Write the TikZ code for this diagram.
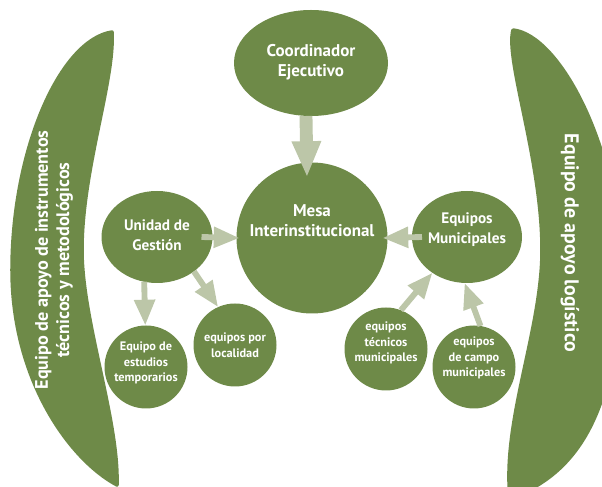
\documentclass[tikz,border=0pt]{standalone}
\usepackage{fontspec}
\setmainfont{PT Sans}
\usetikzlibrary{shapes.geometric,arrows.meta}
\definecolor{leaf}{HTML}{6E8A48}
\definecolor{stem}{HTML}{BCC6A8}
\newlength\pxu
\setlength\pxu{0.03cm}

\begin{document}
\begin{tikzpicture}
    [x=0.03cm, y=-0.03cm,
     blob/.style={ellipse, fill=leaf, inner sep=0pt, outer sep=0pt},
     txt/.style={text=white, align=center, inner sep=0pt, font=\bfseries},
     big/.style={txt, font=\fontsize{14.5}{17}\selectfont\bfseries},
     mid/.style={txt, font=\fontsize{13}{17}\selectfont\bfseries},
     small/.style={txt, font=\fontsize{10.5}{13.5}\selectfont\bfseries},
     trunk/.style={draw=stem, line width=11pt, -{Triangle[length=31pt, width=23pt]}},
     link/.style={draw=stem, line width=5pt, -{Triangle[length=22pt, width=17pt]}}]
    \def \small {83\pxu} % circle size of the small teams

    \useasboundingbox (0,0) rectangle (602,487);
    \clip (0,0) rectangle (602,487);

    % side supports
    \fill[leaf, draw=leaf, line width=3pt, line join=round]
      (112,32) .. controls (60,40) and (12,150) .. (12,270)
      .. controls (12,380) and (70,460) .. (117,485)
      .. controls (119,420) and (82,320) .. (82,250)
      .. controls (82,170) and (115,80) .. (112,32) -- cycle;
    \fill[leaf, draw=leaf, line width=3pt, line join=round]
      (513,30) .. controls (560,35) and (620,150) .. (620,270)
      .. controls (618,390) and (590,470) .. (510,498)
      .. controls (502,420) and (542,330) .. (542,250)
      .. controls (542,160) and (505,60) .. (513,30) -- cycle;

    \node[txt, rotate=90, font=\fontsize{15.5}{18}\selectfont\bfseries] (apoyotec) at (54,260)
      {Equipo de apoyo de instrumentos\\técnicos y metodológicos};
    \node[txt, rotate=-90, font=\fontsize{17}{18}\selectfont\bfseries] (apoyolog) at (570,243)
      {Equipo de apoyo logístico};

    % bubbles
    \node[blob, minimum width=154\pxu, minimum height=106\pxu,
      label={[big, yshift=1\pxu]center:{Coordinador\\Ejecutivo}}] (coord) at (311,63) {};
    \node[blob, minimum width=151\pxu, minimum height=151\pxu,
      label={[big, yshift=17\pxu]center:{Mesa\\Interinstitucional}}] (mesa) at (312,238) {};
    \node[blob, minimum width=111\pxu, minimum height=92\pxu,
      label={[mid, yshift=2\pxu]center:{Unidad de\\Gestión}}] (unidad) at (157,237) {};
    \node[blob, minimum width=110\pxu, minimum height=92\pxu,
      label={[mid, yshift=7\pxu]center:{Equipos\\Municipales}}] (munis) at (467,237) {};

    \node[blob, minimum size=\small,
      label={[small, yshift=4\pxu]center:{Equipo de\\estudios\\temporarios}}] (estudios) at (146,367) {};
    \node[blob, minimum size=\small,
      label={[small]center:{equipos por\\localidad}}] (localidad) at (235,345) {};
    \node[blob, minimum size=\small,
      label={[small, yshift=6\pxu]center:{equipos\\técnicos\\municipales}}] (tecnicos) at (386,349) {};
    \node[blob, minimum size=\small,
      label={[small, yshift=9\pxu]center:{equipos\\de campo\\municipales}}] (campo) at (474,367) {};

    % arrows
    \draw[trunk] ([xshift=-5\pxu]coord.south) -- ([xshift=-5\pxu, yshift=-15\pxu]mesa.north);
    \draw[link] ([xshift=-11\pxu]unidad.east) -- ([xshift=3\pxu]mesa.west);
    \draw[link] ([xshift=10\pxu]munis.west) -- ([xshift=-5\pxu]mesa.east);

    \foreach \a/\b in {unidad.254/estudios.91, unidad.317/localidad.114,
                       tecnicos.69/munis.226, campo.81/munis.267}
      \draw[link] (\a) -- (\b);
\end{tikzpicture}
\end{document}
